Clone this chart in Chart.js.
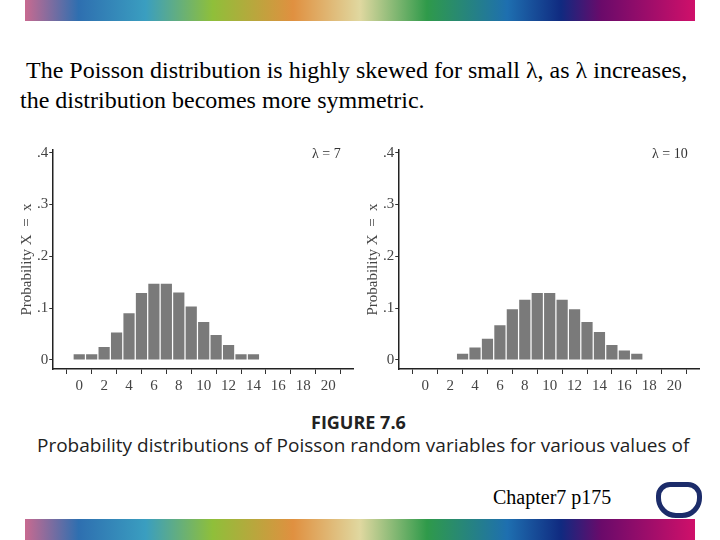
<!DOCTYPE html>
<html>
<head>
<meta charset="utf-8">
<script src="https://cdn.jsdelivr.net/npm/chart.js@4"></script>
<style>
  body { margin: 0; width: 720px; height: 540px; background: #fff; position: relative; overflow: hidden; }
  .band { position: absolute; left: 25px; width: 670px; height: 21px;
    background: linear-gradient(90deg, #c86a90 0%, #2e6fb0 8%, #3a9ec0 18%, #8fbf3a 28%, #e09040 40%, #e0d8a0 50%, #2f9a4a 60%, #1e6fb0 72%, #102a80 80%, #6a0a6a 86%, #d0106a 100%); }
  .title { position: absolute; left: 20px; top: 55px; font: 24px "Liberation Serif", serif; line-height: 30px; color: #000; white-space: nowrap; }
  .fig { position: absolute; left: 311px; top: 410px; font: bold 18px "Open Sans", sans-serif; color: #222; }
  .cap { position: absolute; left: 37px; top: 432px; font: 19px "Open Sans", sans-serif; color: #222; white-space: nowrap; }
  .chap { position: absolute; left: 493px; top: 486px; font: 20px "Liberation Serif", serif; }
  .box { position: absolute; width: 340px; height: 258px; }
  .lam { position: absolute; font: 14px "Liberation Serif", serif; color: #333; }
  .logo { position: absolute; left: 656px; top: 482px; width: 46px; height: 36px; border: 5px solid #1c2c6a; border-radius: 14px 14px 20px 20px; box-sizing: border-box; }
</style>
</head>
<body>
<div class="band" style="top:0"></div>
<div class="band" style="top:519px"></div>
<div class="title">&nbsp;The Poisson distribution is highly skewed for small λ, as λ increases,<br>the distribution becomes more symmetric.</div>
<div class="box" style="left:18px;top:140px"><canvas id="c1" width="340" height="258"></canvas></div>
<div class="box" style="left:364px;top:140px"><canvas id="c2" width="340" height="258"></canvas></div>
<div class="lam" style="left:312px;top:146px">λ = 7</div>
<div class="lam" style="left:652px;top:146px">λ = 10</div>
<div class="fig">FIGURE 7.6</div>
<div class="cap">Probability distributions of Poisson random variables for various values of</div>
<div class="chap">Chapter7 p175</div>
<div class="logo"></div>
<script>
// x values and probabilities
const xs7 = [0, 1, 2, 3, 4, 5, 6, 7, 8, 9, 10, 11, 12, 13, 14];
const p7 = [0.011, 0.011, 0.025, 0.053, 0.09, 0.129, 0.147, 0.147, 0.13, 0.103, 0.073, 0.048, 0.029, 0.011, 0.011];
const xs10 = [3, 4, 5, 6, 7, 8, 9, 10, 11, 12, 13, 14, 15, 16, 17];
const p10 = [0.012, 0.024, 0.041, 0.067, 0.098, 0.116, 0.129, 0.129, 0.116, 0.098, 0.073, 0.054, 0.029, 0.018, 0.012];
const xTicks = [0, 2, 4, 6, 8, 10, 12, 14, 16, 18, 20];
const yTicks = [0, 0.1, 0.2, 0.3, 0.4];

function makeChart(id, xs, ps) {
    const tickFont = { family: 'Liberation Serif', size: 15 };
    new Chart(document.getElementById(id), {
        type: 'bar',
        data: {
            datasets: [{
                data: xs.map((x, i) => ({ x: x, y: ps[i] })),
                backgroundColor: '#7a7a7a',
                barPercentage: 0.9,
                categoryPercentage: 1
            }]
        },
        options: {
            responsive: false,
            animation: false,
            layout: { padding: { top: 8, right: 5 } },
            plugins: { legend: { display: false }, tooltip: { enabled: false } },
            scales: {
                x: {
                    type: 'linear', min: -1.07, max: 20.9,
                    afterBuildTicks: s => { s.ticks = xTicks.map(v => ({ value: v })); },
                    ticks: { font: tickFont, color: '#444', maxRotation: 0, autoSkip: false },
                    grid: { drawOnChartArea: false, tickLength: 5, color: '#333' },
                    border: { color: '#222', width: 1.5 }
                },
                y: {
                    min: -0.0175, max: 0.405,
                    afterBuildTicks: s => { s.ticks = yTicks.map(v => ({ value: v })); },
                    ticks: { font: tickFont, color: '#444', padding: 1,
                        callback: v => v === 0 ? '0' : '.' + Math.round(v * 10) },
                    grid: { drawOnChartArea: false, tickLength: 3, color: '#333' },
                    border: { color: '#222', width: 1.5 },
                    title: { display: true, text: 'Probability X  =  x',
                        font: { family: 'Liberation Serif', size: 15 }, color: '#444', padding: 0 }
                }
            }
        }
    });
}

makeChart('c1', xs7, p7);
makeChart('c2', xs10, p10);
</script>
</body>
</html>
